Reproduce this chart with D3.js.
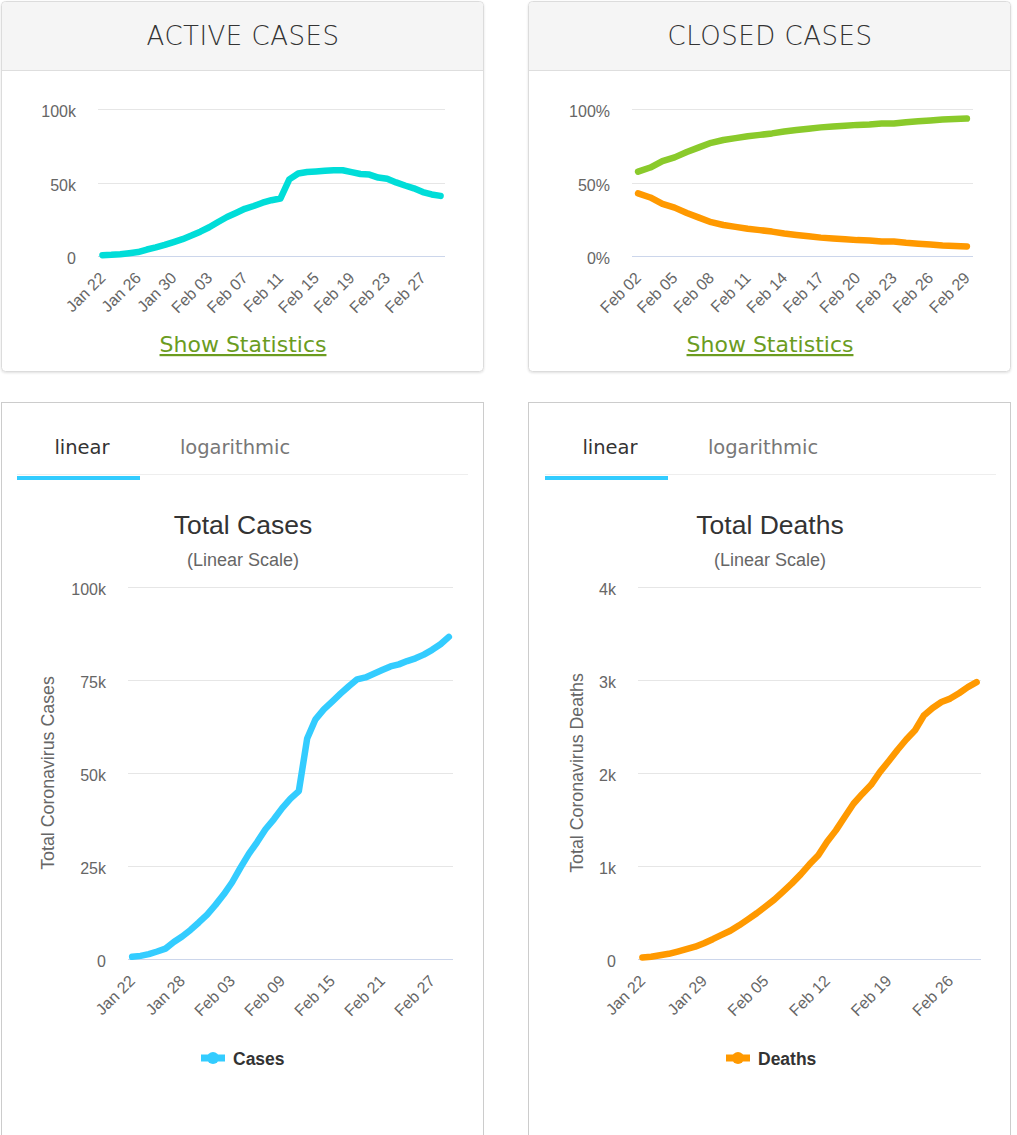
<!DOCTYPE html>
<html lang="en">
<head>
    <meta charset="UTF-8">
    <title>Coronavirus charts</title>
    <script src="https://d3js.org/d3.v7.min.js"></script>
    <style>
        body {
            margin: 0;
            background: #fff;
            font-family: "Liberation Sans", Arial, sans-serif;
        }
        svg { display: block; }
        .tick-label { font-size: 16px; fill: #666; }
        .grid { stroke: #e6e6e6; stroke-width: 1; }
        .axis-line { stroke: #ccd6eb; stroke-width: 1; }
        .header-title { font-family: "DejaVu Sans", sans-serif; font-weight: 200; font-size: 26px; fill: #333; letter-spacing: 0.5px; }
        .stats-link { font-family: "DejaVu Sans", sans-serif; font-size: 22px; fill: #6b9c1f; text-decoration: underline; }
        .tab { font-family: "DejaVu Sans", sans-serif; font-size: 19.5px; }
        .chart-title { font-size: 26.5px; fill: #333; }
        .chart-subtitle { font-size: 18px; fill: #666; }
        .axis-title { font-size: 17.8px; fill: #666; }
        .legend-text { font-size: 17.5px; font-weight: bold; fill: #333; }
    </style>
</head>
<body>
    <svg id="page" width="1017" height="1135">
        <defs>
            <filter id="shadow" x="-5%" y="-5%" width="110%" height="110%">
                <feDropShadow dx="0" dy="1" stdDeviation="1" flood-color="#000" flood-opacity="0.12"/>
            </filter>
        </defs>
    </svg>
    <script>
        // daily categories, Jan 22 .. Feb 29
        const dates = [
            "Jan 22", "Jan 23", "Jan 24", "Jan 25", "Jan 26", "Jan 27", "Jan 28", "Jan 29", "Jan 30", "Jan 31",
            "Feb 01", "Feb 02", "Feb 03", "Feb 04", "Feb 05", "Feb 06", "Feb 07", "Feb 08", "Feb 09", "Feb 10",
            "Feb 11", "Feb 12", "Feb 13", "Feb 14", "Feb 15", "Feb 16", "Feb 17", "Feb 18", "Feb 19", "Feb 20",
            "Feb 21", "Feb 22", "Feb 23", "Feb 24", "Feb 25", "Feb 26", "Feb 27", "Feb 28", "Feb 29"
        ];
        const closedDates = [
            "Feb 02", "Feb 03", "Feb 04", "Feb 05", "Feb 06", "Feb 07", "Feb 08", "Feb 09", "Feb 10",
            "Feb 11", "Feb 12", "Feb 13", "Feb 14", "Feb 15", "Feb 16", "Feb 17", "Feb 18", "Feb 19", "Feb 20",
            "Feb 21", "Feb 22", "Feb 23", "Feb 24", "Feb 25", "Feb 26", "Feb 27", "Feb 28", "Feb 29"
        ];

        const activeCases = [535, 790, 1240, 1910, 2666, 4412, 5816, 7510, 9423, 11439,
            13909, 16542, 19560, 23154, 26549, 29259, 32098, 34024, 36231, 37950,
            39096, 52111, 56084, 57110, 57527, 58062, 58400, 58358, 57047, 55778,
            55387, 53340, 52512, 50063, 47953, 46049, 43490, 41854, 40900];

        const recoveredPct = [57.4, 60.2, 64.6, 67.1, 70.7, 73.9, 77.0, 78.9, 80.2,
            81.5, 82.4, 83.4, 84.7, 85.7, 86.6, 87.5, 88.1, 88.6, 89.2,
            89.4, 90.1, 90.2, 91.0, 91.6, 92.2, 92.8, 93.2, 93.5];
        const deathPct = [42.6, 39.8, 35.4, 32.9, 29.3, 26.1, 23.0, 21.1, 19.8,
            18.5, 17.6, 16.6, 15.3, 14.3, 13.4, 12.5, 11.9, 11.4, 10.8,
            10.6, 9.9, 9.8, 9.0, 8.4, 7.8, 7.2, 6.8, 6.5];

        const totalCases = [580, 845, 1317, 2015, 2800, 4581, 6058, 7813, 9823, 11950,
            14553, 17391, 20630, 24545, 28266, 31439, 34876, 37552, 40553, 43099,
            45134, 59287, 64438, 67100, 69197, 71329, 73332, 75184, 75700, 76677,
            77673, 78651, 79205, 80087, 80828, 81820, 83112, 84615, 86604];

        const totalDeaths = [17, 25, 41, 56, 80, 106, 132, 170, 213, 259,
            304, 362, 426, 492, 565, 638, 724, 813, 910, 1018,
            1115, 1261, 1383, 1526, 1669, 1775, 1873, 2009, 2126, 2247,
            2360, 2460, 2618, 2699, 2763, 2800, 2858, 2923, 2977];

        // tick labels
        const activeTicks = ["Jan 22", "Jan 26", "Jan 30", "Feb 03", "Feb 07", "Feb 11", "Feb 15", "Feb 19", "Feb 23", "Feb 27"];
        const closedTicks = ["Feb 02", "Feb 05", "Feb 08", "Feb 11", "Feb 14", "Feb 17", "Feb 20", "Feb 23", "Feb 26", "Feb 29"];
        const casesTicks = ["Jan 22", "Jan 28", "Feb 03", "Feb 09", "Feb 15", "Feb 21", "Feb 27"];
        const deathsTicks = ["Jan 22", "Jan 29", "Feb 05", "Feb 12", "Feb 19", "Feb 26"];
        const activeYTicks = [0, 50000, 100000];
        const closedYTicks = [0, 50, 100];
        const casesYTicks = [0, 25000, 50000, 75000, 100000];
        const deathsYTicks = [0, 1000, 2000, 3000, 4000];

        const kFormat = d => d === 0 ? "0" : (d / 1000) + "k";
        const pctFormat = d => d + "%";

        const svg = d3.select("#page");

        // ---------- panels ----------
        function topPanel(x0, title) {
            const w = 482, h = 370;
            const g = svg.append("g");
            g.append("rect").attr("x", x0 + 0.5).attr("y", 1.5).attr("width", w).attr("height", h)
                .attr("rx", 4).attr("fill", "#fff").attr("stroke", "#dcdcdc")
                .attr("filter", "url(#shadow)");
            g.append("path")
                .attr("d", `M${x0 + 1},70 V6 Q${x0 + 1},2 ${x0 + 5},2 H${x0 + w - 4} Q${x0 + w},2 ${x0 + w},6 V70 Z`)
                .attr("fill", "#f5f5f5");
            g.append("line").attr("x1", x0 + 1).attr("x2", x0 + w).attr("y1", 70.5).attr("y2", 70.5)
                .attr("stroke", "#dedede");
            g.append("text").attr("class", "header-title").attr("x", x0 + w / 2 + 1).attr("y", 36)
                .attr("text-anchor", "middle").attr("dominant-baseline", "central").text(title);
            g.append("text").attr("class", "stats-link").attr("x", x0 + w / 2 + 1).attr("y", 352)
                .attr("text-anchor", "middle").text("Show Statistics");
        }

        function bottomPanel(x0, title, tabStart) {
            const w = 482;
            const g = svg.append("g");
            g.append("rect").attr("x", x0 + 0.5).attr("y", 402.5).attr("width", w).attr("height", 760)
                .attr("fill", "#fff").attr("stroke", "#cccccc");
            g.append("line").attr("x1", tabStart).attr("x2", tabStart + 451).attr("y1", 474.5).attr("y2", 474.5)
                .attr("stroke", "#eeeeee");
            g.append("rect").attr("x", tabStart).attr("y", 476).attr("width", 123).attr("height", 4)
                .attr("fill", "#33ccff");
            g.append("text").attr("class", "tab").attr("x", tabStart + 65).attr("y", 454)
                .attr("text-anchor", "middle").attr("fill", "#333").text("linear");
            g.append("text").attr("class", "tab").attr("x", tabStart + 218).attr("y", 454)
                .attr("text-anchor", "middle").attr("fill", "#777").text("logarithmic");
            g.append("text").attr("class", "chart-title").attr("x", x0 + w / 2 + 1).attr("y", 534)
                .attr("text-anchor", "middle").text(title);
            g.append("text").attr("class", "chart-subtitle").attr("x", x0 + w / 2 + 1).attr("y", 566)
                .attr("text-anchor", "middle").text("(Linear Scale)");
        }

        // ---------- line chart ----------
        function lineChart(o) {
            const g = svg.append("g");
            const x = d3.scalePoint().domain(o.categories).range([o.left, o.right]).padding(0.5);
            const y = d3.scaleLinear().domain([0, o.yMax]).range([o.bottom, o.top]);

            g.selectAll(".grid").data(o.yTicks.filter(d => d !== 0)).join("line")
                .attr("class", "grid")
                .attr("x1", o.left).attr("x2", o.right)
                .attr("y1", d => Math.round(y(d)) + 0.5).attr("y2", d => Math.round(y(d)) + 0.5);
            g.append("line").attr("class", "axis-line")
                .attr("x1", o.left).attr("x2", o.right)
                .attr("y1", o.bottom + 0.5).attr("y2", o.bottom + 0.5);

            const yAxis = g.append("g").attr("transform", `translate(${o.left},0)`)
                .call(d3.axisLeft(y).tickValues(o.yTicks).tickFormat(o.yFormat).tickSize(0).tickPadding(22));
            yAxis.select(".domain").remove();
            yAxis.selectAll("text").attr("class", "tick-label").attr("dy", "0.48em")
                .style("font-family", "'Liberation Sans', Arial, sans-serif");

            const xAxis = g.append("g").attr("transform", `translate(0,${o.bottom})`)
                .call(d3.axisBottom(x).tickValues(o.xTicks).tickSize(0));
            xAxis.select(".domain").remove();
            xAxis.selectAll("text").attr("class", "tick-label")
                .attr("x", 0).attr("y", 0).attr("dy", 0)
                .attr("text-anchor", "end")
                .attr("transform", "translate(3.5,23) rotate(-45)")
                .style("font-family", "'Liberation Sans', Arial, sans-serif");

            const line = d3.line().x((d, i) => x(o.categories[i])).y(d => y(d));
            o.series.forEach(s => {
                g.append("path").datum(s.values)
                    .attr("d", line)
                    .attr("fill", "none")
                    .attr("stroke", s.color)
                    .attr("stroke-width", 6.5)
                    .attr("stroke-linejoin", "round")
                    .attr("stroke-linecap", "round");
            });

            if (o.yTitle) {
                g.append("text").attr("class", "axis-title")
                    .attr("transform", `translate(${o.yTitleX},${(o.top + o.bottom) / 2}) rotate(-90)`)
                    .attr("text-anchor", "middle").attr("dominant-baseline", "central")
                    .text(o.yTitle);
            }
            if (o.legend) {
                const lg = g.append("g").attr("transform", `translate(${o.legendX},1058)`);
                lg.append("line").attr("x1", 0).attr("x2", 24).attr("y1", 0).attr("y2", 0)
                    .attr("stroke", o.series[0].color).attr("stroke-width", 7);
                lg.append("circle").attr("cx", 12).attr("cy", 0).attr("r", 6).attr("fill", o.series[0].color);
                lg.append("text").attr("class", "legend-text").attr("x", 32).attr("y", 6.5).text(o.legend);
            }
        }

        topPanel(1, "ACTIVE CASES");
        topPanel(528, "CLOSED CASES");
        bottomPanel(1, "Total Cases", 17);
        bottomPanel(528, "Total Deaths", 545);

        lineChart({
            categories: dates, left: 98, right: 445, top: 109, bottom: 256,
            yMax: 100000, yTicks: activeYTicks, yFormat: kFormat, xTicks: activeTicks,
            series: [{ values: activeCases, color: "#00ddd8" }]
        });
        lineChart({
            categories: closedDates, left: 632, right: 973, top: 109, bottom: 256,
            yMax: 100, yTicks: closedYTicks, yFormat: pctFormat, xTicks: closedTicks,
            series: [{ values: recoveredPct, color: "#8aca2b" }, { values: deathPct, color: "#ff9900" }]
        });
        lineChart({
            categories: dates, left: 128, right: 453, top: 587, bottom: 959,
            yMax: 100000, yTicks: casesYTicks, yFormat: kFormat, xTicks: casesTicks,
            series: [{ values: totalCases, color: "#33ccff" }],
            yTitle: "Total Coronavirus Cases", yTitleX: 48, legend: "Cases", legendX: 201
        });
        lineChart({
            categories: dates, left: 638, right: 981, top: 587, bottom: 959,
            yMax: 4000, yTicks: deathsYTicks, yFormat: kFormat, xTicks: deathsTicks,
            series: [{ values: totalDeaths, color: "#ff9900" }],
            yTitle: "Total Coronavirus Deaths", yTitleX: 577, legend: "Deaths", legendX: 726
        });
    </script>
</body>
</html>
